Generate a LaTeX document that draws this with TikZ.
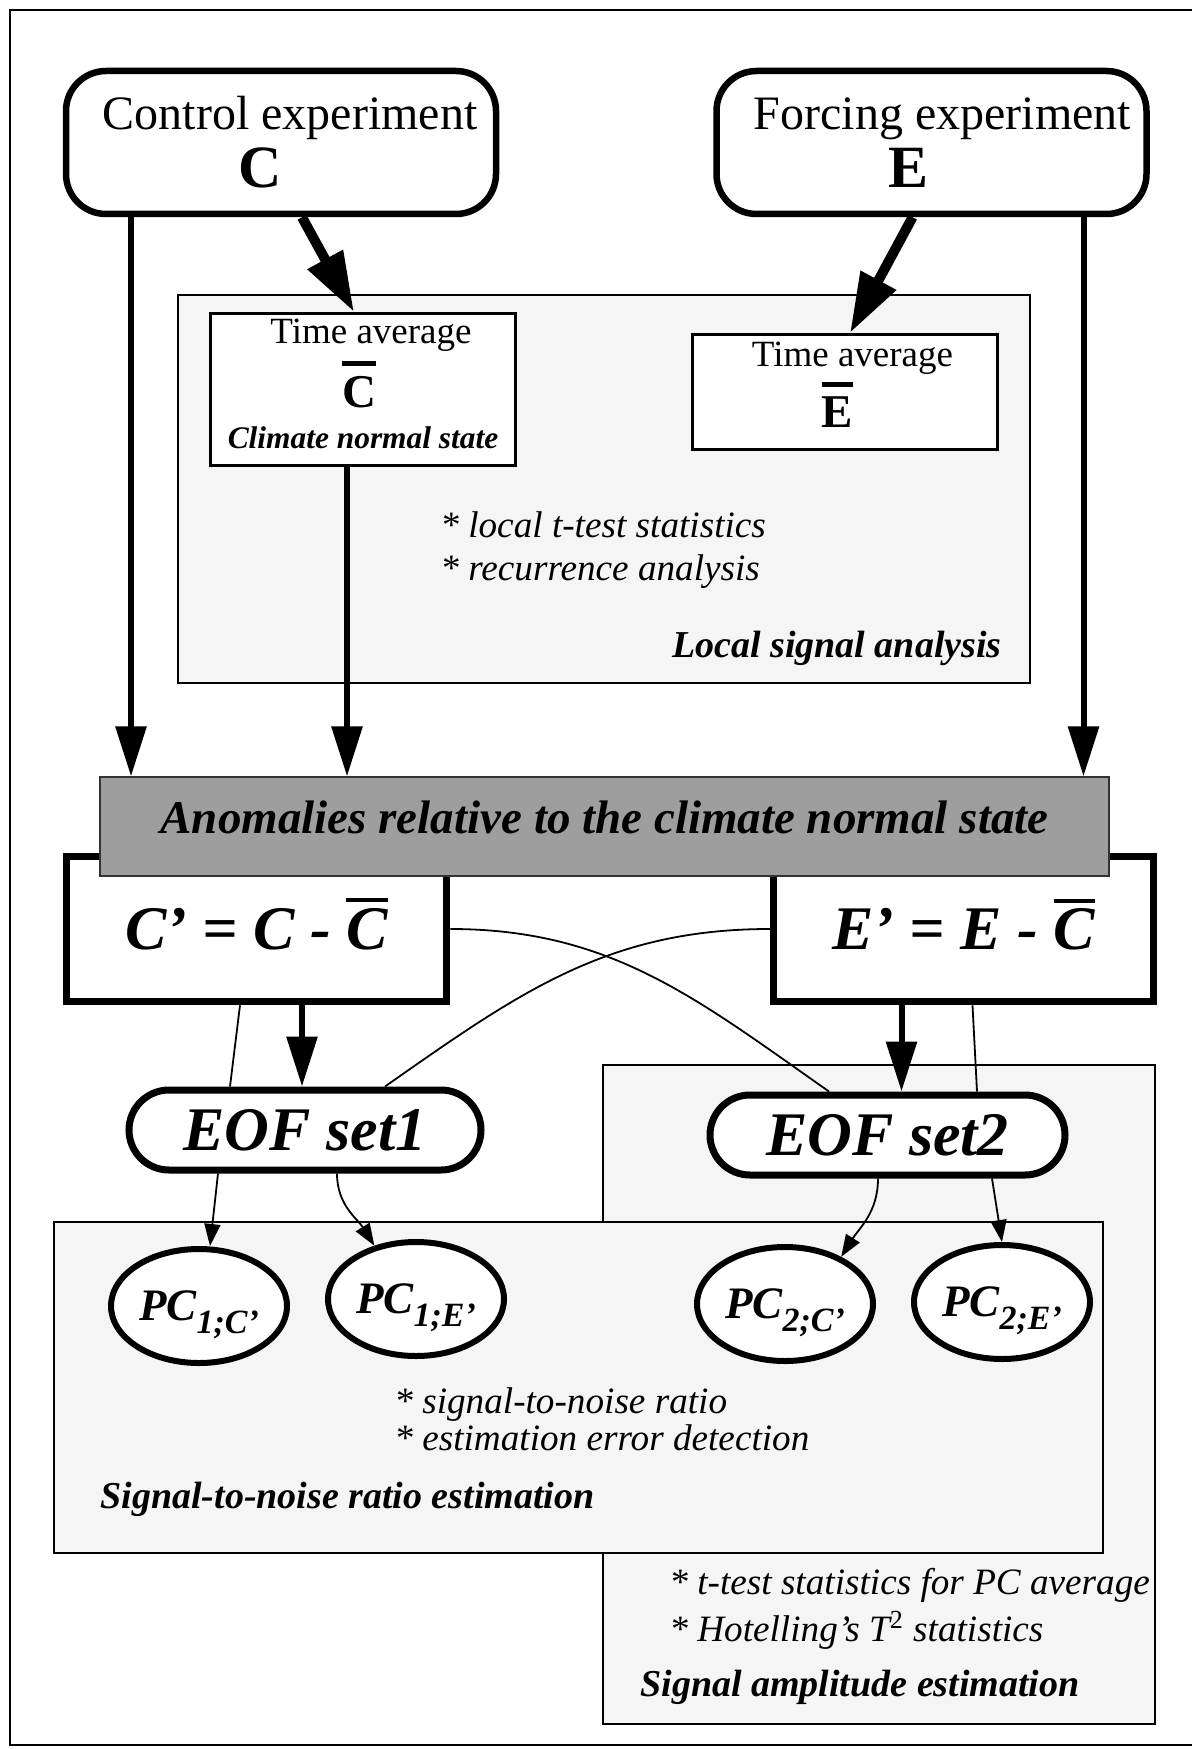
\documentclass[tikz,border=0pt]{standalone}
\usepackage{fontspec}
\setmainfont{Liberation Serif}
\usetikzlibrary{arrows.meta,positioning,shapes.geometric,calc}
\newcommand{\topbar}[3]{\vbox{\hrule height #1\kern #2\hbox{#3}}}
\newcommand{\pcsub}[1]{\raisebox{-6.5pt}{\fontsize{17}{17}\selectfont #1}}
\tikzset{
  expbox/.style={draw,line width=3.25pt,rounded corners=20pt,fill=white,minimum width=215pt,minimum height=71.5pt,inner sep=0pt,align=center,font=\fontsize{24}{29}\selectfont},
  avgbox/.style={draw,line width=1.5pt,fill=white,minimum width=152.5pt,inner sep=0pt,align=center},
  anombox/.style={draw,line width=3.75pt,fill=white,minimum width=190pt,minimum height=72.5pt,inner sep=0pt,font=\fontsize{31}{31}\selectfont\bfseries\itshape},
  eofbox/.style={draw,line width=3.5pt,rounded corners=20pt,fill=white,minimum width=176pt,minimum height=40pt,inner sep=0pt,font=\fontsize{31}{31}\selectfont\bfseries\itshape},
  pcnode/.style={draw,ellipse,line width=3pt,fill=white,minimum width=88pt,minimum height=57pt,inner sep=0pt,text height=23pt,text depth=9pt,font=\fontsize{22.5}{22.5}\selectfont\bfseries\itshape},
  bandbox/.style={draw=black!80,line width=0.6pt,fill=black!38,minimum width=504.5pt,minimum height=49.5pt,inner sep=0pt,text depth=9pt,font=\fontsize{23.5}{23.5}\selectfont\bfseries\itshape},
  panel/.style={draw,line width=1pt,fill=black!4},
  note/.style={anchor=base west,inner sep=0pt,font=\fontsize{18.6}{18.6}\selectfont\itshape},
  paneltitle/.style={anchor=base west,inner sep=0pt,font=\fontsize{19}{19}\selectfont\bfseries\itshape},
  feed/.style={line width=3pt,-{Triangle[length=25pt,width=15pt]}},
  mean/.style={line width=5pt,-{Triangle[length=30pt,width=19pt]}},
  proj/.style={line width=0.9pt,-{Triangle[length=11pt,width=8pt]}},
  link/.style={line width=0.9pt}
}
\begin{document}
\begin{tikzpicture}[x=0.5pt,y=-0.5pt]
\useasboundingbox (0,0) rectangle (1192,1749);
\draw[line width=1pt] (10,10) rectangle (1195,1745);
\draw[panel] (603,1065) rectangle (1155,1724);
\draw[panel] (54,1222) rectangle (1103,1553);
\draw[panel] (178,295) rectangle (1030,683);

\node[expbox] at (281,142.5) (ctrl) {Control experiment\kern-9pt\\{\fontsize{30}{30}\selectfont\bfseries C\kern21pt}};
\node[expbox,right=107pt of ctrl] (forc) {Forcing experiment\kern-11pt\\{\fontsize{30}{30}\selectfont\bfseries E\kern23pt}};
\node[avgbox,minimum height=76pt,font=\fontsize{18.5}{20.5}\selectfont] at (363,389.5) (tavgC) {Time average\kern-8pt\\[11.5pt]\smash{\fontsize{23.5}{23.5}\selectfont\bfseries\topbar{2.5pt}{5pt}{C}}\kern4pt\\{\fontsize{15.7}{15.7}\selectfont\bfseries\itshape Climate normal state\rule[-6pt]{0pt}{0pt}}};
\node[avgbox,minimum height=57.5pt,font=\fontsize{18.5}{30.5}\selectfont] at (844.5,392) (tavgE) {Time average\kern-8pt\\{\fontsize{23.5}{23.5}\selectfont\bfseries\topbar{2.5pt}{5pt}{E}\kern7pt\rule[-7pt]{0pt}{0pt}}};

\node[anombox] at (256.5,929) (Cp) {C’ = C - \smash{\topbar{2pt}{3pt}{C}}};
\node[anombox,right=159.75pt of Cp] (Ep) {E’ = E - \smash{\topbar{2pt}{3pt}{C}}};
\node[bandbox] at (604.5,826.5) (anom) {Anomalies relative to the climate normal state};

\node[eofbox] at (305,1130) (eof1) {EOF set1};
\node[eofbox,minimum width=177.5pt] at (887.5,1135) (eof2) {EOF set2};

\node[pcnode] at (199,1306) (pc1c) {PC\pcsub{1;C’}};
\node[pcnode] at (416,1299) (pc1e) {PC\pcsub{1;E’}};
\node[pcnode] at (785,1304) (pc2c) {PC\pcsub{2;C’}};
\node[pcnode] at (1002,1302) (pc2e) {PC\pcsub{2;E’}};

\draw[mean] ([xshift=10.5pt]ctrl.south) -- ([xshift=-4.5pt]tavgC.north);
\draw[mean] ([xshift=-9.5pt]forc.south) -- ([xshift=2.75pt]tavgE.north);
\draw[feed] ([xshift=-75pt]ctrl.south) -- ([xshift=-75pt]ctrl.south |- anom.north);
\draw[feed] ([xshift=-8pt]tavgC.south) -- ([xshift=-8pt]tavgC.south |- anom.north);
\draw[feed] ([xshift=76pt]forc.south) -- ([xshift=76pt]forc.south |- anom.north);
\draw[feed] ([xshift=22.75pt]Cp.south) -- ([xshift=22.75pt]Cp.south |- eof1.north);
\draw[feed] ([xshift=-31pt]Ep.south) -- ([xshift=-31pt]Ep.south |- eof2.north);

\draw[link] ([xshift=-8.25pt]Cp.south) -- ([xshift=-37.5pt]eof1.north);
\draw[link] (Cp.east) to[out=0,in=145] ([xshift=-29.25pt]eof2.north);
\draw[link] (Ep.west) to[out=180,in=35] ([xshift=40pt]eof1.north);
\draw[link] ([xshift=4.5pt]Ep.south) -- ([xshift=44.75pt]eof2.north);
\draw[proj] ([xshift=-43.5pt]eof1.south) -- ([xshift=5.5pt]pc1c.north);
\draw[proj] ([xshift=16pt]eof1.south) to[out=-90,in=122] (pc1e.128);
\draw[proj] ([xshift=-4.75pt]eof2.south) to[out=-90,in=58] (pc2c.40);
\draw[proj] ([xshift=52.25pt]eof2.south) -- (pc2e.north);

\node[note] (lt1) at (440,537) {* local t-test statistics};
\node[note] (lt2) at (440,580) {* recurrence analysis};
\node[paneltitle,anchor=base east] (lsa) at (1002,657) {Local signal analysis};
\node[note] (sn1) at (394,1413) {* signal-to-noise ratio};
\node[note] (sn2) at (394,1450) {* estimation error detection};
\node[paneltitle] (sne) at (100,1508) {Signal-to-noise ratio estimation};
\node[note] (sa1) at (669,1594) {* t-test statistics for PC average};
\node[note] (sa2) at (669,1641) {* Hotelling’s T\textsuperscript{\upshape 2} statistics};
\node[paneltitle] (sae) at (640,1696) {Signal amplitude estimation};
\end{tikzpicture}
\end{document}
